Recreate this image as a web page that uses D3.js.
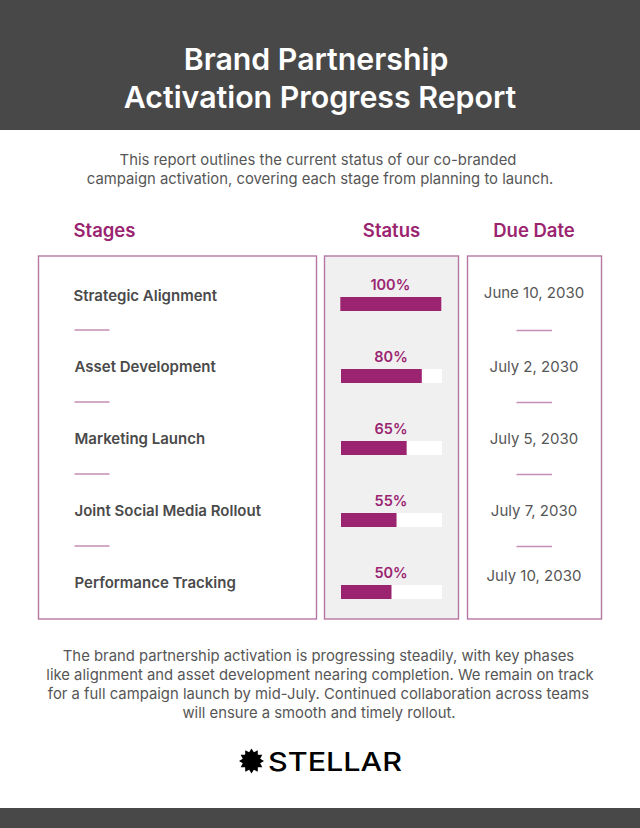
<!DOCTYPE html>
<html>
<head>
<meta charset="utf-8">
<script src="https://cdn.jsdelivr.net/npm/d3@7"></script>
<style>
  html, body { margin: 0; padding: 0; background: #fff; }
  svg { display: block; }
  text { font-family: Inter, "Open Sans", sans-serif; }
</style>
</head>
<body>
<div id="target"></div>
<script>
var stages = ["Strategic Alignment", "Asset Development", "Marketing Launch", "Joint Social Media Rollout", "Performance Tracking"];
var progress = [100, 80, 65, 55, 50];
var dueDates = ["June 10, 2030", "July 2, 2030", "July 5, 2030", "July 7, 2030", "July 10, 2030"];
var columnHeads = ["Stages", "Status", "Due Date"];
var titleLines = ["Brand Partnership", "Activation Progress Report"];
var introLines = ["This report outlines the current status of our co-branded", "campaign activation, covering each stage from planning to launch."];
var outroLines = [
  "The brand partnership activation is progressing steadily, with key phases",
  "like alignment and asset development nearing completion. We remain on track",
  "for a full campaign launch by mid-July. Continued collaboration across teams",
  "will ensure a smooth and timely rollout."
];
var brand = "STELLAR";

var width = 640;
var height = 828;
var dark = "#484848";
var purple = "#9b2470";
var frame = "#b577a2";
var rule = "#c48fb6";
var ink = "#4a4a4a";
var body = "#565656";

var svg = d3.select('#target').append('svg')
  .attr('width', width)
  .attr('height', height);

// row centres, all three columns hang off this
var rowY = d3.scalePoint()
  .domain(d3.range(stages.length))
  .range([304, 592]);

var barX = d3.scaleLinear()
  .domain([0, 100])
  .range([341, 442]);

function lines(list, x, y0, step, size, weight, color, shift) {
  svg.append('g').selectAll('text')
    .data(list)
    .join('text')
    .attr('x', function(d, i) { return x + (shift ? shift[i] : 0); })
    .attr('y', function(d, i) { return y0 + i * step; })
    .attr('text-anchor', 'middle')
    .attr('font-size', size)
    .attr('font-weight', weight)
    .attr('fill', color)
    .text(function(d) { return d; });
}

// header and footer bands
svg.append('rect').attr('width', width).attr('height', 130).attr('fill', dark);
svg.append('rect').attr('y', 808).attr('width', width).attr('height', 20).attr('fill', dark);

lines(titleLines, 320, 70, 37.5, 30.3, 600, '#fff', [-4, 0]);
lines(introLines, 320, 165, 19, 14.85, 400, body, [-2, 0]);
lines(outroLines, 320, 661, 19, 14.85, 400, body, [-1.5, 0, -1.5, -1]);

// column heads
svg.append('g').selectAll('text')
  .data(columnHeads)
  .join('text')
  .attr('x', function(d, i) { return [104.5, 391.5, 534][i]; })
  .attr('y', 236.5)
  .attr('text-anchor', 'middle')
  .attr('font-size', 18.5)
  .attr('font-weight', 600)
  .attr('fill', purple)
  .text(function(d) { return d; });

// the three panels
svg.append('g').selectAll('rect')
  .data([[38.5, 278, '#fff'], [324.5, 134, '#f0f0f0'], [467.5, 134, '#fff']])
  .join('rect')
  .attr('x', function(d) { return d[0]; })
  .attr('y', 256)
  .attr('width', function(d) { return d[1]; })
  .attr('height', 363)
  .attr('fill', function(d) { return d[2]; })
  .attr('stroke', frame)
  .attr('stroke-width', 1.4);

// stage names
svg.append('g').selectAll('text')
  .data(stages)
  .join('text')
  .attr('x', function(d, i) { return i == 0 ? 73.5 : 74.5; })
  .attr('y', function(d, i) { return rowY(i) - (i == 0 ? 3.5 : 4); })
  .attr('font-size', 15)
  .attr('font-weight', 600)
  .attr('fill', ink)
  .text(function(d) { return d; });

// dividers between rows, left and right panels
var gaps = d3.range(stages.length - 1);
svg.append('g').selectAll('line')
  .data(gaps)
  .join('line')
  .attr('x1', 74.5)
  .attr('x2', 109.5)
  .attr('y1', function(d) { return rowY(d) + 26; })
  .attr('y2', function(d) { return rowY(d) + 26; })
  .attr('stroke', rule)
  .attr('stroke-width', 1.5);

svg.append('g').selectAll('line')
  .data(gaps)
  .join('line')
  .attr('x1', 516.5)
  .attr('x2', 552)
  .attr('y1', function(d) { return rowY(d) + 26.5; })
  .attr('y2', function(d) { return rowY(d) + 26.5; })
  .attr('stroke', rule)
  .attr('stroke-width', 1.5);

// progress bars, the top one starts a pixel further left in the reference
var bars = svg.append('g').selectAll('g')
  .data(progress)
  .join('g')
  .attr('transform', function(d, i) { return i == 0 ? 'translate(-0.7,0)' : null; });

bars.append('rect')
  .attr('x', barX(0))
  .attr('y', function(d, i) { return rowY(i) - 7; })
  .attr('width', barX(100) - barX(0))
  .attr('height', 14)
  .attr('fill', '#fff');

bars.append('rect')
  .attr('x', barX(0))
  .attr('y', function(d, i) { return rowY(i) - 7; })
  .attr('width', function(d) { return barX(d) - barX(0); })
  .attr('height', 14)
  .attr('fill', purple);

bars.append('text')
  .attr('x', 391)
  .attr('y', function(d, i) { return rowY(i) - 14; })
  .attr('text-anchor', 'middle')
  .attr('font-size', 14.5)
  .attr('font-weight', 600)
  .attr('fill', purple)
  .text(function(d) { return d + '%'; });

// due dates, the last one sits a bit higher in the reference
svg.append('g').selectAll('text')
  .data(dueDates)
  .join('text')
  .attr('x', 534)
  .attr('y', function(d, i) { return rowY(i) - (i == 0 ? 6 : i == 4 ? 11 : 4); })
  .attr('text-anchor', 'middle')
  .attr('font-size', 15)
  .attr('fill', body)
  .text(function(d) { return d; });

// logo: twelve point star and wordmark
var starPoints = d3.range(24).map(function(i) {
  return [i * Math.PI / 12, i % 2 ? 9 : 12.5];
});
svg.append('path')
  .attr('transform', 'translate(251.5,761)')
  .attr('d', d3.lineRadial().curve(d3.curveLinearClosed)(starPoints))
  .attr('fill', '#000');

svg.append('text')
  .attr('x', 268)
  .attr('y', 771)
  .attr('font-size', 26)
  .attr('font-weight', 500)
  .attr('textLength', 134)
  .attr('lengthAdjust', 'spacingAndGlyphs')
  .attr('fill', '#000')
  .text(brand);
</script>
</body>
</html>
